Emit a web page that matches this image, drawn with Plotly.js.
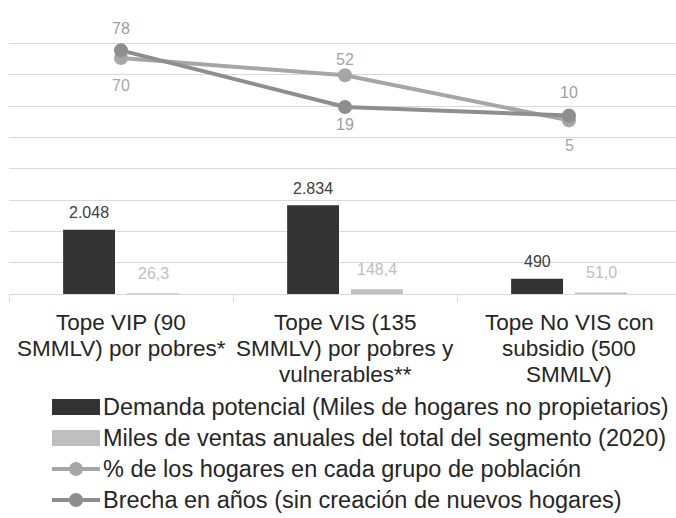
<!DOCTYPE html>
<html>
<head>
<meta charset="utf-8">
<script src="https://cdn.plot.ly/plotly-3.0.1.min.js"></script>
<style>html,body{margin:0;padding:0;background:#fff;}#chart{width:676px;height:518px;}</style>
</head>
<body>
<div id="chart"></div>
<script>
// ---- data ----
const categories = [
  'Tope VIP (90<br>SMMLV) por pobres*',
  'Tope VIS (135<br>SMMLV) por pobres y<br>vulnerables**',
  'Tope No VIS con<br>subsidio (500<br>SMMLV)'
];
const demandaPotencial = [2048, 2834, 490];
const ventasAnuales = [26.3, 148.4, 51.0];
const pctHogares = [70, 52, 5];
const brechaAnios = [78, 19, 10];
const seriesNames = [
  'Demanda potencial (Miles de hogares no propietarios)',
  'Miles de ventas anuales del total del segmento (2020)',
  '% de los hogares en cada grupo de población',
  'Brecha en años (sin creación de nuevos hogares)'
];

// ---- style ----
const FONT = 'Liberation Sans, Arial, sans-serif';
const W = 676, H = 518;
const M = {l: 9, r: 0, t: 12, b: 224};
const plotW = W - M.l - M.r, plotH = H - M.t - M.b;
const catWidthPx = 224;
const colDark = '#333333', colLight = '#bfbfbf';
const colPct = '#a6a6a6', colBrecha = '#8e8e8e';
const pctShift = [-27, 16, -25];
const brechaShift = [22, -18, 23];
const barOffsetPx = 32;
const px2x = p => (p - M.l) / plotW;
const px2y = p => (H - M.b - p) / plotH;
const fmtThousands = v => Math.round(v).toString().replace(/\B(?=(\d{3})+(?!\d))/g, '.');
const fmtDecimal = v => v.toFixed(1).replace('.', ',');

const traces = [
  {type: 'bar', x: categories, y: demandaPotencial, name: seriesNames[0],
   marker: {color: colDark}, cliponaxis: false},
  {type: 'bar', x: categories, y: ventasAnuales, name: seriesNames[1],
   marker: {color: colLight}, cliponaxis: false},
  {type: 'scatter', mode: 'lines+markers', x: categories, y: pctHogares, yaxis: 'y2', name: seriesNames[2],
   line: {color: colPct, width: 4}, marker: {color: colPct, size: 14}, cliponaxis: false},
  {type: 'scatter', mode: 'lines+markers', x: categories, y: brechaAnios, yaxis: 'y2', name: seriesNames[3],
   line: {color: colBrecha, width: 4}, marker: {color: colBrecha, size: 14}, cliponaxis: false}
];

const annotations = [];
categories.forEach((c, i) => {
  // bar value labels
  annotations.push({x: c, y: demandaPotencial[i], xref: 'x', yref: 'y', text: fmtThousands(demandaPotencial[i]),
    showarrow: false, xshift: -barOffsetPx, yshift: 17, font: {size: 16, color: '#404040', family: FONT}});
  annotations.push({x: c, y: ventasAnuales[i], xref: 'x', yref: 'y', text: fmtDecimal(ventasAnuales[i]),
    showarrow: false, xshift: barOffsetPx, yshift: 20, font: {size: 16, color: '#bfbfbf', family: FONT}});
  // line value labels
  annotations.push({x: c, y: pctHogares[i], xref: 'x', yref: 'y2', text: String(pctHogares[i]),
    showarrow: false, yshift: pctShift[i], font: {size: 16, color: '#a6a6a6', family: FONT}});
  annotations.push({x: c, y: brechaAnios[i], xref: 'x', yref: 'y2', text: String(brechaAnios[i]),
    showarrow: false, yshift: brechaShift[i], font: {size: 16, color: '#a0a0a0', family: FONT}});
  // category labels, one annotation per line for tight line spacing
  c.split('<br>').forEach((line, k) => {
    annotations.push({x: c, xref: 'x', yref: 'paper', y: px2y(322 + 26 * k), yanchor: 'middle',
      showarrow: false, text: line, font: {size: 22.5, color: '#262626', family: FONT}});
  });
});

// custom legend
const legRows = [407, 438, 469, 500];
const symX0 = 52, symX1 = 100, textX = 101;
const shapes = [];
const legColors = [colDark, colLight, colPct, colBrecha];
legRows.forEach((ry, i) => {
  if (i < 2) {
    shapes.push({type: 'rect', xref: 'paper', yref: 'paper',
      x0: px2x(symX0), x1: px2x(symX1), y0: px2y(ry - 8), y1: px2y(ry + 8),
      fillcolor: legColors[i], line: {width: 0}});
  } else {
    shapes.push({type: 'line', xref: 'paper', yref: 'paper',
      x0: px2x(symX0), x1: px2x(symX1), y0: px2y(ry), y1: px2y(ry),
      line: {color: legColors[i], width: 4}});
    shapes.push({type: 'circle', xref: 'paper', yref: 'paper',
      x0: px2x(76 - 7), x1: px2x(76 + 7), y0: px2y(ry - 7), y1: px2y(ry + 7),
      fillcolor: legColors[i], line: {width: 0}});
  }
  annotations.push({xref: 'paper', yref: 'paper', x: px2x(textX), y: px2y(ry),
    xanchor: 'left', yanchor: 'middle', showarrow: false, text: seriesNames[i],
    font: {size: 23.5, color: '#262626', family: FONT}});
});

const layout = {
  width: W, height: H,
  margin: {l: M.l, r: M.r, t: M.t, b: M.b, pad: 0, autoexpand: false},
  paper_bgcolor: '#ffffff', plot_bgcolor: '#ffffff',
  showlegend: false,
  barmode: 'group', bargap: 0.43, bargroupgap: 0.1875,
  font: {family: FONT, color: '#262626'},
  xaxis: {type: 'category', range: [-0.5, -0.5 + plotW / catWidthPx], showline: true, linecolor: '#d9d9d9', linewidth: 1,
    ticks: 'outside', tickson: 'boundaries', ticklen: 7, tickcolor: '#d9d9d9', tickwidth: 1,
    showgrid: false, showticklabels: false, fixedrange: true},
  yaxis: {range: [0, 9000], dtick: 1000, showticklabels: false, showgrid: true, gridcolor: '#d9d9d9', gridwidth: 1,
    zeroline: false, showline: false, ticks: ''},
  yaxis2: {overlaying: 'y', side: 'right', range: [-176, 118], showgrid: false, zeroline: false,
    showticklabels: false, showline: false, ticks: ''},
  shapes: shapes,
  annotations: annotations
};

Plotly.newPlot('chart', traces, layout, {staticPlot: true, displayModeBar: false});
</script>
</body>
</html>
